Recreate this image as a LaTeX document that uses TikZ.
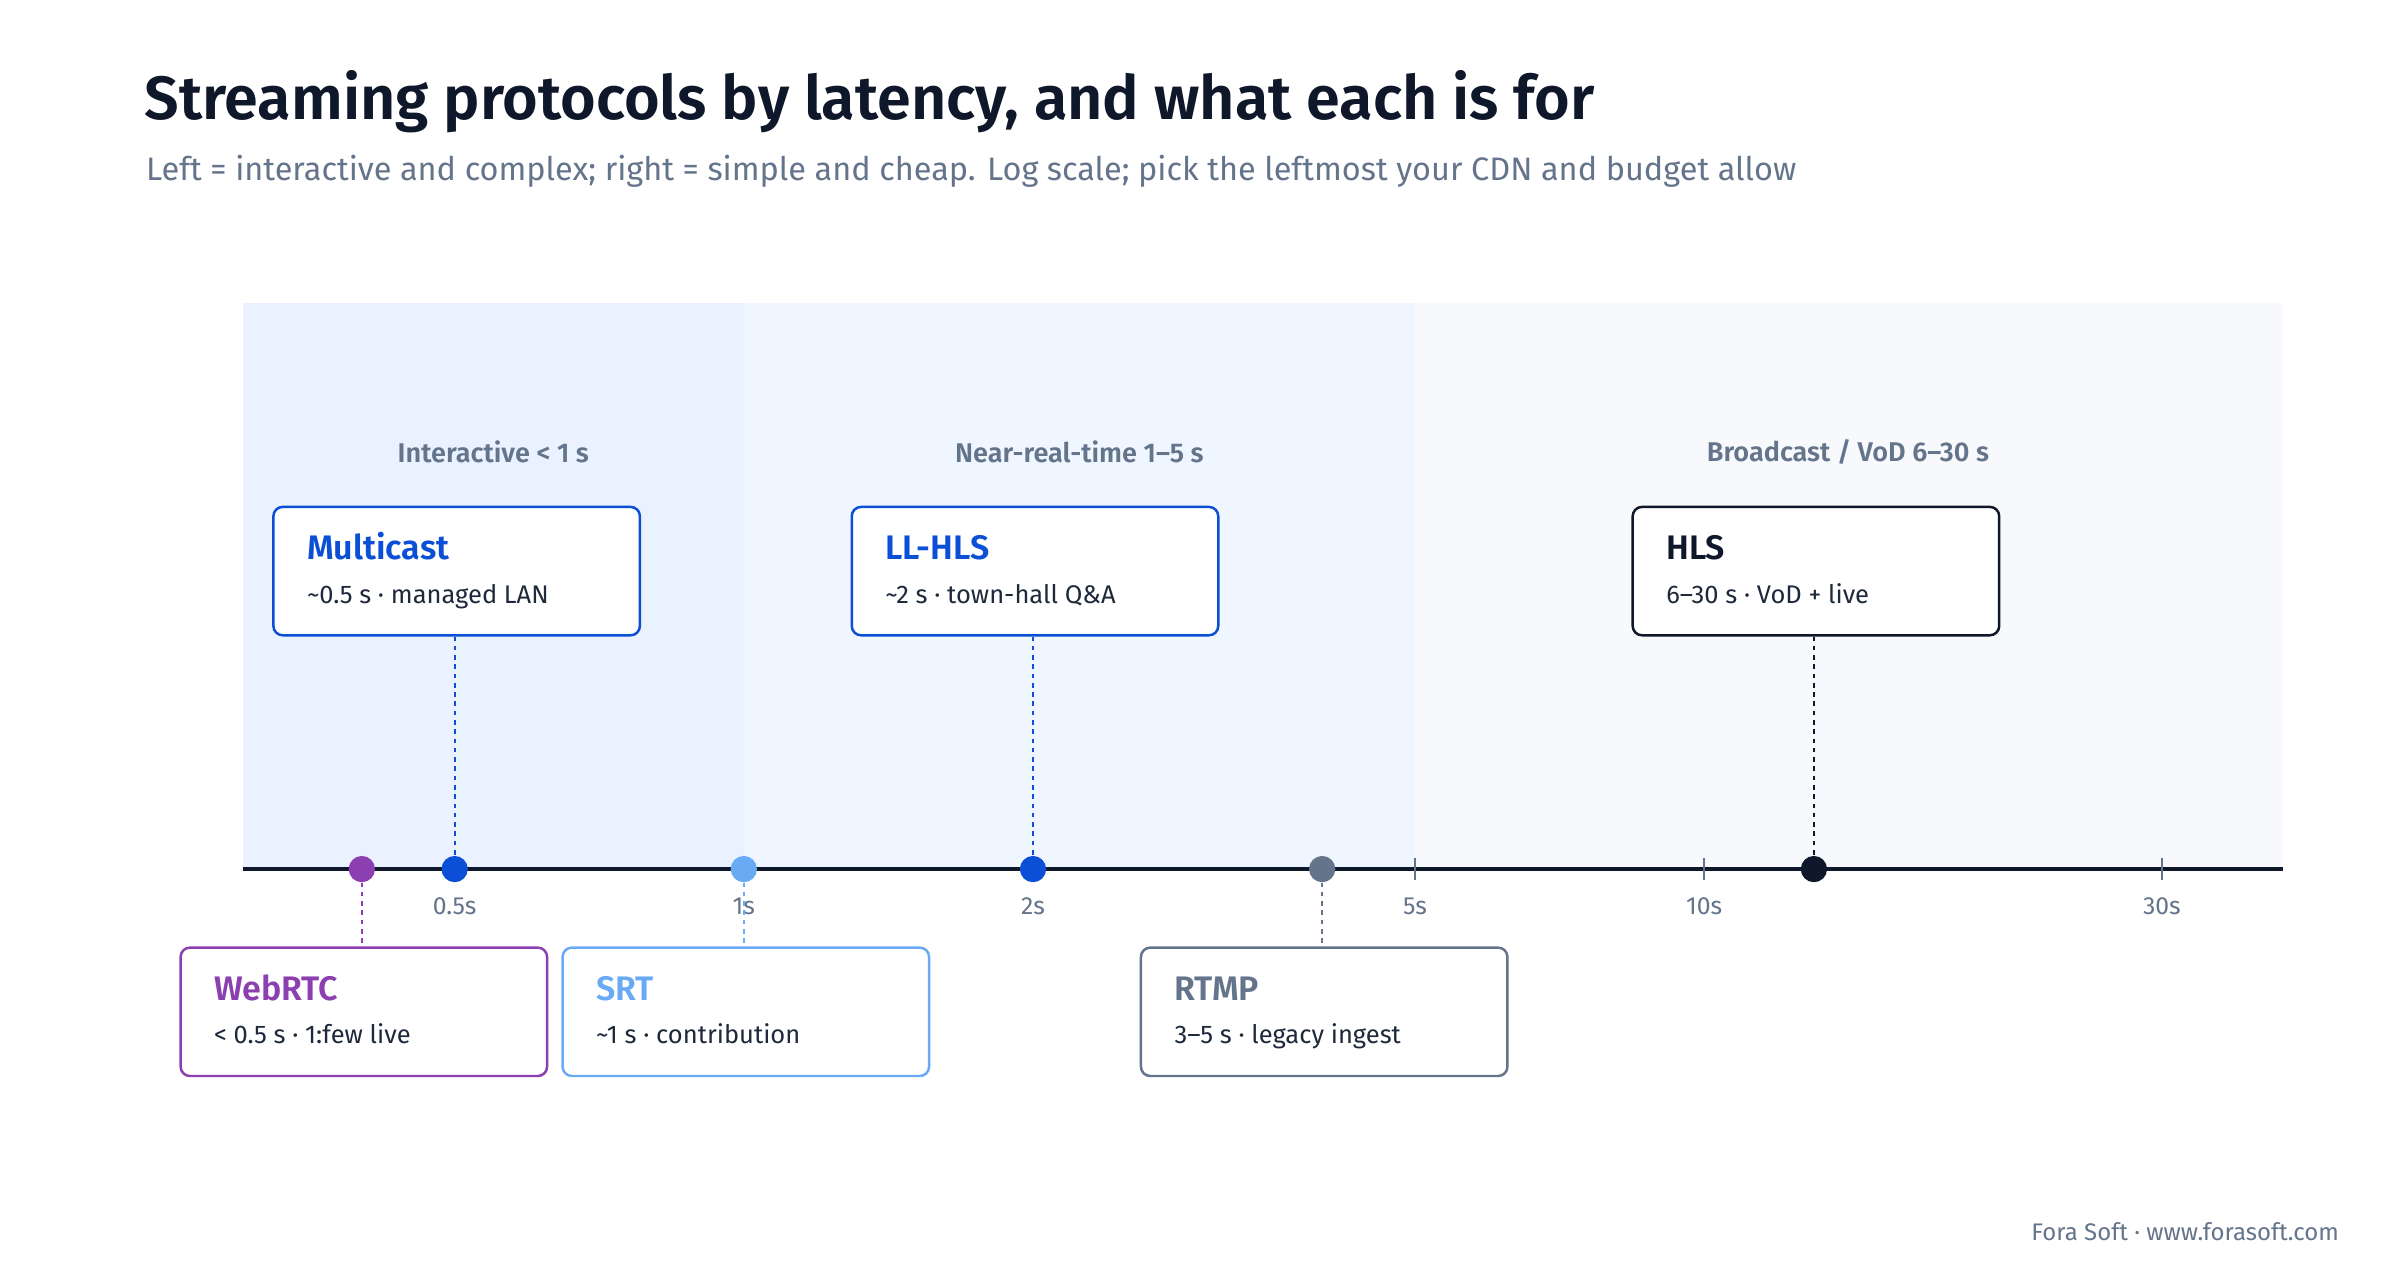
\documentclass[tikz,border=0pt]{standalone}
\usepackage{fontspec}
\setmainfont{Fira Sans}[BoldFont={Fira Sans SemiBold}]
\begin{document}
\begin{tikzpicture}[x=1pt,y=-1pt,
 box/.style={draw=#1,line width=1.6pt,rounded corners=6pt,fill=white,minimum width=237pt,minimum height=83pt,anchor=north west},
 ttl/.style={anchor=base west,font=\fontsize{22}{24}\selectfont\bfseries},
 sub/.style={anchor=base west,font=\fontsize{16.5}{18}\selectfont,text=c-text},
 band/.style={font=\fontsize{17.5}{19}\selectfont\bfseries,text=c-gray},
 tick/.style={font=\fontsize{16}{18}\selectfont,text=c-gray},
 dot/.style={circle,fill=#1,minimum size=17pt,inner sep=0pt},
 lead/.style={draw=#1,line width=1.3pt,dash pattern=on 3pt off 3pt}]
\definecolor{c-text}{HTML}{1E293B}
\definecolor{c-dark}{HTML}{0F172A}
\definecolor{c-gray}{HTML}{64748B}
\definecolor{c-blue}{HTML}{0B4FD6}
\definecolor{c-sky}{HTML}{6AAAF5}
\definecolor{c-purp}{HTML}{8B3FB0}
\useasboundingbox[fill=white] (0,0) rectangle (1552,817);
\fill[fill={rgb,255:red,233;green,242;blue,254}] (157,196) rectangle (481,562);
\fill[fill={rgb,255:red,240;green,246;blue,255}] (481,196) rectangle (915,562);
\fill[fill={rgb,255:red,247;green,249;blue,252}] (915,196) rectangle (1476,562);
\node[anchor=base west,font=\fontsize{39.5}{42}\selectfont\bfseries,text=c-dark] (title) at (90,77) {Streaming protocols by latency, and what each is for};
\node[anchor=base west,font=\fontsize{21}{24}\selectfont,text=c-gray] (subtitle) at (91,117) {Left = interactive and complex; right = simple and cheap. Log scale; pick the leftmost your CDN and budget allow};
\node[band] (b1) at (319,292) {Interactive < 1 s};
\node[band] (b2) at (698,292) {Near-real-time 1–5 s};
\node[band] (b3) at (1195,292) {Broadcast / VoD 6–30 s};
\coordinate (a0) at (157,562); \coordinate (a1) at (1476,562);
\draw[c-dark,line width=2.4pt] (a0) -- (a1);
\foreach \x in {915,1102,1398} \draw[c-gray,line width=1.3pt] (\x,555) -- (\x,569);
\foreach \x/\l in {294/0.5s,481/1s,668/2s,915/5s,1102/10s,1398/30s} \node[tick] (t\l) at (\x,586) {\l};
% upper boxes
\node[box=c-blue] (mc) at (176,327) {};
\node[ttl,text=c-blue] at (195,362) {Multicast};
\node[sub] at (195,390) {\textasciitilde0.5 s · managed LAN};
\node[box=c-blue] (ll) at (550,327) {};
\node[ttl,text=c-blue] at (569,362) {LL-HLS};
\node[sub] at (569,390) {\textasciitilde2 s · town-hall Q\&A};
\node[box=c-dark] (hls) at (1055,327) {};
\node[ttl,text=c-dark] at (1074,362) {HLS};
\node[sub] at (1074,390) {6–30 s · VoD + live};
% lower boxes
\node[box=c-purp] (wr) at (116,612) {};
\node[ttl,text=c-purp] at (135,647) {WebRTC};
\node[sub] at (135,675) {< 0.5 s · 1:few live};
\node[box=c-sky] (srt) at (363,612) {};
\node[ttl,text=c-sky] at (382,647) {SRT};
\node[sub] at (382,675) {\textasciitilde1 s · contribution};
\node[box=c-gray] (rt) at (737,612) {};
\node[ttl,text=c-gray] at (756,647) {RTMP};
\node[sub] at (756,675) {3–5 s · legacy ingest};
% dots
\node[dot=c-purp] (dwr) at (234,562) {};
\node[dot=c-blue] (dmc) at (294,562) {};
\node[dot=c-sky] (dsrt) at (481,562) {};
\node[dot=c-blue] (dll) at (668,562) {};
\node[dot=c-gray] (drt) at (855,562) {};
\node[dot=c-dark] (dhls) at (1173,562) {};
% leaders
\draw[lead=c-blue] (mc.south -| dmc) -- (dmc);
\draw[lead=c-blue] (ll.south -| dll) -- (dll);
\draw[lead=c-dark] (hls.south -| dhls) -- (dhls);
\draw[lead=c-purp] (dwr) -- (wr.north -| dwr);
\draw[lead=c-sky] (dsrt) -- (srt.north -| dsrt);
\draw[lead=c-gray] (drt) -- (rt.north -| drt);
\node[anchor=base east,font=\fontsize{15.5}{17}\selectfont,text=c-gray] (foot) at (1516,802) {Fora Soft · www.forasoft.com};
\end{tikzpicture}
\end{document}
